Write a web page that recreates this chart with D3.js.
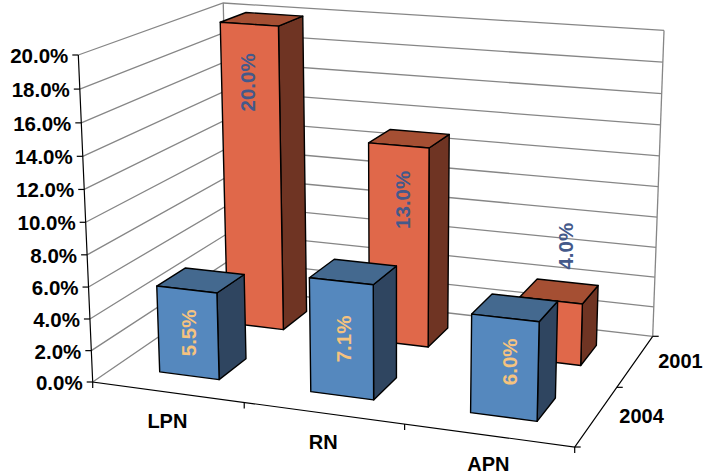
<!DOCTYPE html>
<html>
<head>
<meta charset="utf-8">
<script src="https://cdn.jsdelivr.net/npm/d3@7"></script>
<style>
	html, body { margin: 0; padding: 0; background: #fff; }
	text { font-family: "Liberation Sans", Arial, sans-serif; font-weight: bold; }
</style>
</head>
<body>
<svg></svg>
<script>
var categories = ["LPN", "RN", "APN"];
var series = ["2001", "2004"];
var values2001 = [20.0, 13.0, 4.0];
var values2004 = [5.5, 7.1, 6.0];
var tickValues = [0, 2, 4, 6, 8, 10, 12, 14, 16, 18, 20];
var tickLabels = ["0.0%", "2.0%", "4.0%", "6.0%", "8.0%", "10.0%", "12.0%", "14.0%", "16.0%", "18.0%", "20.0%"];

var w = 703,
	h = 476;

var svg = d3.select("svg")
	.attr("width", w)
	.attr("height", h)
	.style("display", "block");

// floor corners and vertical vanishing point
var p0 = [92.7, 382], p1 = [574.7, 447], p2 = [652.7, 336.3], p3 = [230, 288];
var vp = [396, 7274];
var topY = 55; // screen y of the 20% tick on the front left edge

var dx1 = p1[0] - p2[0], dx2 = p3[0] - p2[0], sx = p0[0] - p1[0] + p2[0] - p3[0],
	dy1 = p1[1] - p2[1], dy2 = p3[1] - p2[1], sy = p0[1] - p1[1] + p2[1] - p3[1],
	den = dx1 * dy2 - dx2 * dy1,
	g = (sx * dy2 - dx2 * sy) / den,
	k = (dx1 * sy - sx * dy1) / den;
var lam = (topY - p0[1]) / (vp[1] - topY);

// u along the categories, v into the depth, t up, all 0..1
function project(u, v, t) {
	var d = g * u + k * v + 1 + lam * t;
	return [
		((p1[0] - p0[0] + g * p1[0]) * u + (p3[0] - p0[0] + k * p3[0]) * v + p0[0] + lam * t * vp[0]) / d,
		((p1[1] - p0[1] + g * p1[1]) * u + (p3[1] - p0[1] + k * p3[1]) * v + p0[1] + lam * t * vp[1]) / d
	];
}

var xScale = d3.scaleBand()
	.domain(categories)
	.range([0, 1])
	.paddingInner(0.6)
	.paddingOuter(0.3);
var zScale = d3.scaleBand()
	.domain(["2004", "2001"])
	.range([0, 1])
	.paddingInner(0.6)
	.paddingOuter(0.3);
var yScale = d3.scaleLinear()
	.domain([0, 20])
	.range([0, 1]);

var line = d3.line();

// gridlines, left wall then back wall
svg.append("g")
	.selectAll("path")
	.data(tickValues)
	.join("path")
	.attr("d", function (d) {
		var t = yScale(d);
		return line([project(0, 0, t), project(0, 1, t), project(1, 1, t)]);
	})
	.attr("fill", "none")
	.attr("stroke", "#868686")
	.attr("stroke-width", 1.3);

svg.append("path")
	.attr("d", line([project(0, 1, 0), project(0, 1, 1)]))
	.attr("stroke", "#868686")
	.attr("stroke-width", 1.3);
svg.append("path")
	.attr("d", line([project(1, 1, 0), project(1, 1, 1)]))
	.attr("stroke", "#868686")
	.attr("stroke-width", 1.3);

// axes
var axisG = svg.append("g")
	.attr("fill", "none")
	.attr("stroke", "#000")
	.attr("stroke-width", 1.2);
axisG.append("path").attr("d", line([project(0, 0, 1), project(0, 0, 0), project(1, 0, 0), project(1, 1, 0)]));

tickValues.forEach(function (d) {
	var a = project(0, 0, yScale(d));
	axisG.append("path").attr("d", line([a, [a[0] - 6, a[1]]]));
});
[0, 1, 2, 3].forEach(function (i) {
	var a = project(i / 3, 0, 0);
	axisG.append("path").attr("d", line([a, [a[0], a[1] + 6]]));
});
[0, 0.5, 1].forEach(function (v) {
	var a = project(1, v, 0);
	axisG.append("path").attr("d", line([a, [a[0] + 6, a[1]]]));
});

// tick labels
svg.append("g")
	.selectAll("text")
	.data(tickValues)
	.join("text")
	.attr("x", function (d) { return project(0, 0, yScale(d))[0] - 10; })
	.attr("y", function (d) { return project(0, 0, yScale(d))[1] + 0.5; })
	.attr("text-anchor", "end")
	.attr("dominant-baseline", "central")
	.attr("font-size", 20.5)
	.text(function (d, i) { return tickLabels[i]; });

svg.append("g")
	.selectAll("text")
	.data(categories)
	.join("text")
	.attr("x", function (d) { return project(xScale(d) + xScale.bandwidth() / 2, 0, 0)[0]; })
	.attr("y", function (d) { return project(xScale(d) + xScale.bandwidth() / 2, 0, 0)[1] + 29; })
	.attr("text-anchor", "middle")
	.attr("dominant-baseline", "central")
	.attr("font-size", 20)
	.text(function (d) { return d; });

svg.append("g")
	.selectAll("text")
	.data(series)
	.join("text")
	.attr("x", function (d) { return project(1, zScale(d) + zScale.bandwidth() / 2, 0)[0] + 45; })
	.attr("y", function (d) { return project(1, zScale(d) + zScale.bandwidth() / 2, 0)[1]; })
	.attr("text-anchor", "middle")
	.attr("dominant-baseline", "central")
	.attr("font-size", 20)
	.text(function (d) { return d; });

// bars, back row first
var rows = [
	{ name: "2001", values: values2001, front: "#e0684a", top: "#a54f33", side: "#6f3423", label: "#44598a" },
	{ name: "2004", values: values2004, front: "#5588be", top: "#44698f", side: "#2f4560", label: "#f5c37f" }
];

// data labels were moved by hand in the original, offsets from the face centre
var labelDx = { "2001": [-5, 4, 15], "2004": [1, 2, 5] };
var labelDy = { "2001": [-96, -46, -85], "2004": [0, 0, -6] };

rows.forEach(function (row) {
	var u0, u1, v0 = zScale(row.name), v1 = v0 + zScale.bandwidth();
	var g2 = svg.append("g")
		.selectAll("g")
		.data(row.values)
		.join("g");

	function box(d, i) {
		u0 = xScale(categories[i]);
		u1 = u0 + xScale.bandwidth();
		return yScale(d);
	}
	function poly(pts) {
		return line(pts) + "Z";
	}

	g2.append("path")
		.attr("d", function (d, i) {
			var t = box(d, i);
			return poly([project(u1, v0, 0), project(u1, v1, 0), project(u1, v1, t), project(u1, v0, t)]);
		})
		.attr("fill", row.side);
	g2.append("path")
		.attr("d", function (d, i) {
			var t = box(d, i);
			return poly([project(u0, v0, t), project(u1, v0, t), project(u1, v1, t), project(u0, v1, t)]);
		})
		.attr("fill", row.top);
	g2.append("path")
		.attr("d", function (d, i) {
			var t = box(d, i);
			return poly([project(u0, v0, 0), project(u1, v0, 0), project(u1, v0, t), project(u0, v0, t)]);
		})
		.attr("fill", row.front);
	g2.selectAll("path")
		.attr("stroke", "#000")
		.attr("stroke-width", 1.4)
		.attr("stroke-linejoin", "round");

	g2.append("text")
		.attr("transform", function (d, i) {
			var t = box(d, i);
			var c = project((u0 + u1) / 2, v0, t / 2);
			return "translate(" + (c[0] + labelDx[row.name][i]) + "," + (c[1] + labelDy[row.name][i]) + ") rotate(-90)";
		})
		.attr("text-anchor", "middle")
		.attr("dominant-baseline", "central")
		.attr("font-size", 20.5)
		.attr("fill", row.label)
		.text(function (d) { return d.toFixed(1) + "%"; });
});
</script>
</body>
</html>
